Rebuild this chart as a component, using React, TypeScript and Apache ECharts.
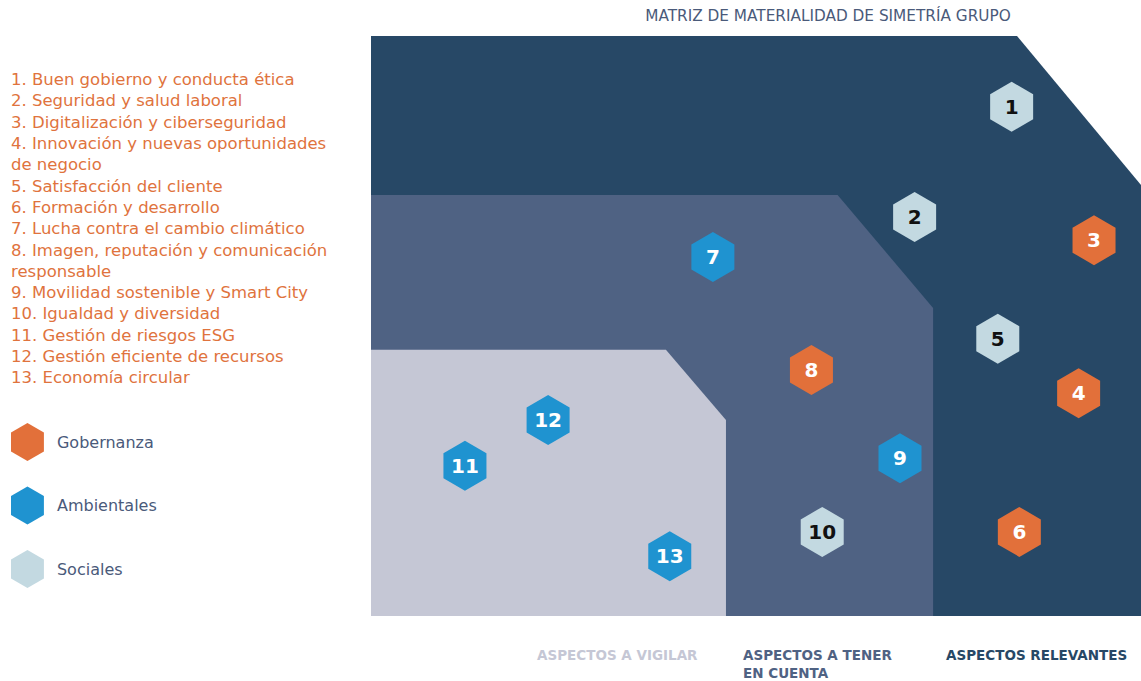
import React, { useEffect, useRef } from "react";
import * as echarts from "echarts";

const ids = ["1", "2", "3", "4", "5", "6", "7", "8", "9", "10", "11", "12", "13"];
const xs = [83.2, 70.6, 93.9, 91.9, 81.4, 84.2, 44.4, 57.2, 68.7, 58.6, 12.2, 23.0, 38.8];
const ys = [87.8, 68.8, 64.8, 38.4, 47.8, 14.5, 61.9, 42.4, 27.2, 14.5, 25.9, 33.8, 10.3];
const cats = ["Sociales", "Sociales", "Gobernanza", "Gobernanza", "Sociales", "Gobernanza", "Ambientales", "Gobernanza", "Ambientales", "Sociales", "Ambientales", "Ambientales", "Ambientales"];

const categories = ["Gobernanza", "Ambientales", "Sociales"];
const catColors = ["#e2703a", "#1f93d0", "#c3d9e1"];
const catText = ["#ffffff", "#ffffff", "#111111"];

const zoneDark = [[0, 0], [0, 100], [83.9, 100], [100, 74.3], [100, 0]];
const zoneMid = [[0, 0], [0, 72.6], [60.6, 72.6], [73.0, 53.1], [73.0, 0]];
const zoneLight = [[0, 0], [0, 45.9], [38.3, 45.9], [46.1, 33.8], [46.1, 0]];
const zoneColors = ["#274866", "#4f6283", "#c5c7d5"];

const issues = [
  "1. Buen gobierno y conducta ética",
  "2. Seguridad y salud laboral",
  "3. Digitalización y ciberseguridad",
  "4. Innovación y nuevas oportunidades\nde negocio",
  "5. Satisfacción del cliente",
  "6. Formación y desarrollo",
  "7. Lucha contra el cambio climático",
  "8. Imagen, reputación y comunicación\nresponsable",
  "9. Movilidad sostenible y Smart City",
  "10. Igualdad y diversidad",
  "11. Gestión de riesgos ESG",
  "12. Gestión eficiente de recursos",
  "13. Economía circular",
];

const title = "MATRIZ DE MATERIALIDAD DE SIMETRÍA GRUPO";
const zoneLabels = ["ASPECTOS A VIGILAR", "ASPECTOS A TENER\nEN CUENTA", "ASPECTOS RELEVANTES"];

const HEX = "path://M0,-1 L0.866,-0.5 L0.866,0.5 L0,1 L-0.866,0.5 L-0.866,-0.5 Z";
const FONT = "'DejaVu Sans', sans-serif";

export default function App() {
  const ref = useRef<HTMLDivElement>(null);
  useEffect(() => {
    if (!ref.current) return;
    const chart = echarts.init(ref.current, undefined, { renderer: "svg" });
    const zones = [zoneDark, zoneMid, zoneLight];
    const zoneSeries = zones.map((z, i) => ({
      type: "custom",
      silent: true,
      z: 1,
      data: [0],
      renderItem: (params: any, api: any) => ({
        type: "polygon",
        shape: { points: z.map((p) => api.coord(p)) },
        style: { fill: zoneColors[i] },
      }),
    }));
    const pointSeries = categories.map((c, ci) => ({
      type: "scatter",
      name: c,
      z: 5,
      symbol: HEX,
      symbolSize: [43, 50],
      itemStyle: { color: catColors[ci], opacity: 1 },
      label: {
        show: true,
        position: "inside",
        formatter: (p: any) => p.data[2],
        color: catText[ci],
        fontSize: 20,
        fontWeight: "bold",
        fontFamily: FONT,
      },
      data: ids
        .map((id, i) => [xs[i], ys[i], id, cats[i]])
        .filter((d) => d[3] === c),
    }));
    chart.setOption({
      animation: false,
      grid: { left: 371, right: 0, top: 36, bottom: 65 },
      xAxis: { type: "value", min: 0, max: 100, show: false },
      yAxis: { type: "value", min: 0, max: 100, show: false },
      legend: {
        orient: "vertical",
        left: 11,
        top: 423,
        padding: 0,
        itemWidth: 33,
        itemHeight: 38,
        itemGap: 25.5,
        icon: HEX,
        data: categories,
        selectedMode: false,
        textStyle: { color: "#4a5a7a", fontSize: 16, fontFamily: FONT, padding: [0, 0, 0, 8] },
      },
      graphic: [
        {
          type: "text",
          left: 11,
          top: 69,
          style: {
            text: issues.join("\n"),
            fill: "#e0733d",
            fontSize: 16.5,
            lineHeight: 21.3,
            fontFamily: FONT,
          },
        },
        {
          type: "text",
          x: 828,
          y: 16,
          style: {
            text: title,
            fill: "#4a5a7a",
            fontSize: 15.3,
            fontFamily: FONT,
            align: "center",
            verticalAlign: "middle",
          },
        },
        {
          type: "text",
          x: 537,
          y: 646,
          style: { text: zoneLabels[0], fill: "#c5c7d5", fontSize: 13.5, fontWeight: "bold", fontFamily: FONT, lineHeight: 18 },
        },
        {
          type: "text",
          x: 743,
          y: 646,
          style: { text: zoneLabels[1], fill: "#4f6283", fontSize: 13.5, fontWeight: "bold", fontFamily: FONT, lineHeight: 18 },
        },
        {
          type: "text",
          x: 946,
          y: 646,
          style: { text: zoneLabels[2], fill: "#274866", fontSize: 13.5, fontWeight: "bold", fontFamily: FONT, lineHeight: 18 },
        },
      ],
      series: [...zoneSeries, ...pointSeries],
    });
    return () => chart.dispose();
  }, []);
  return (
    <div
      ref={ref}
      style={{ position: "fixed", left: 0, top: 0, width: 1141, height: 681, background: "#ffffff" }}
    />
  );
}
